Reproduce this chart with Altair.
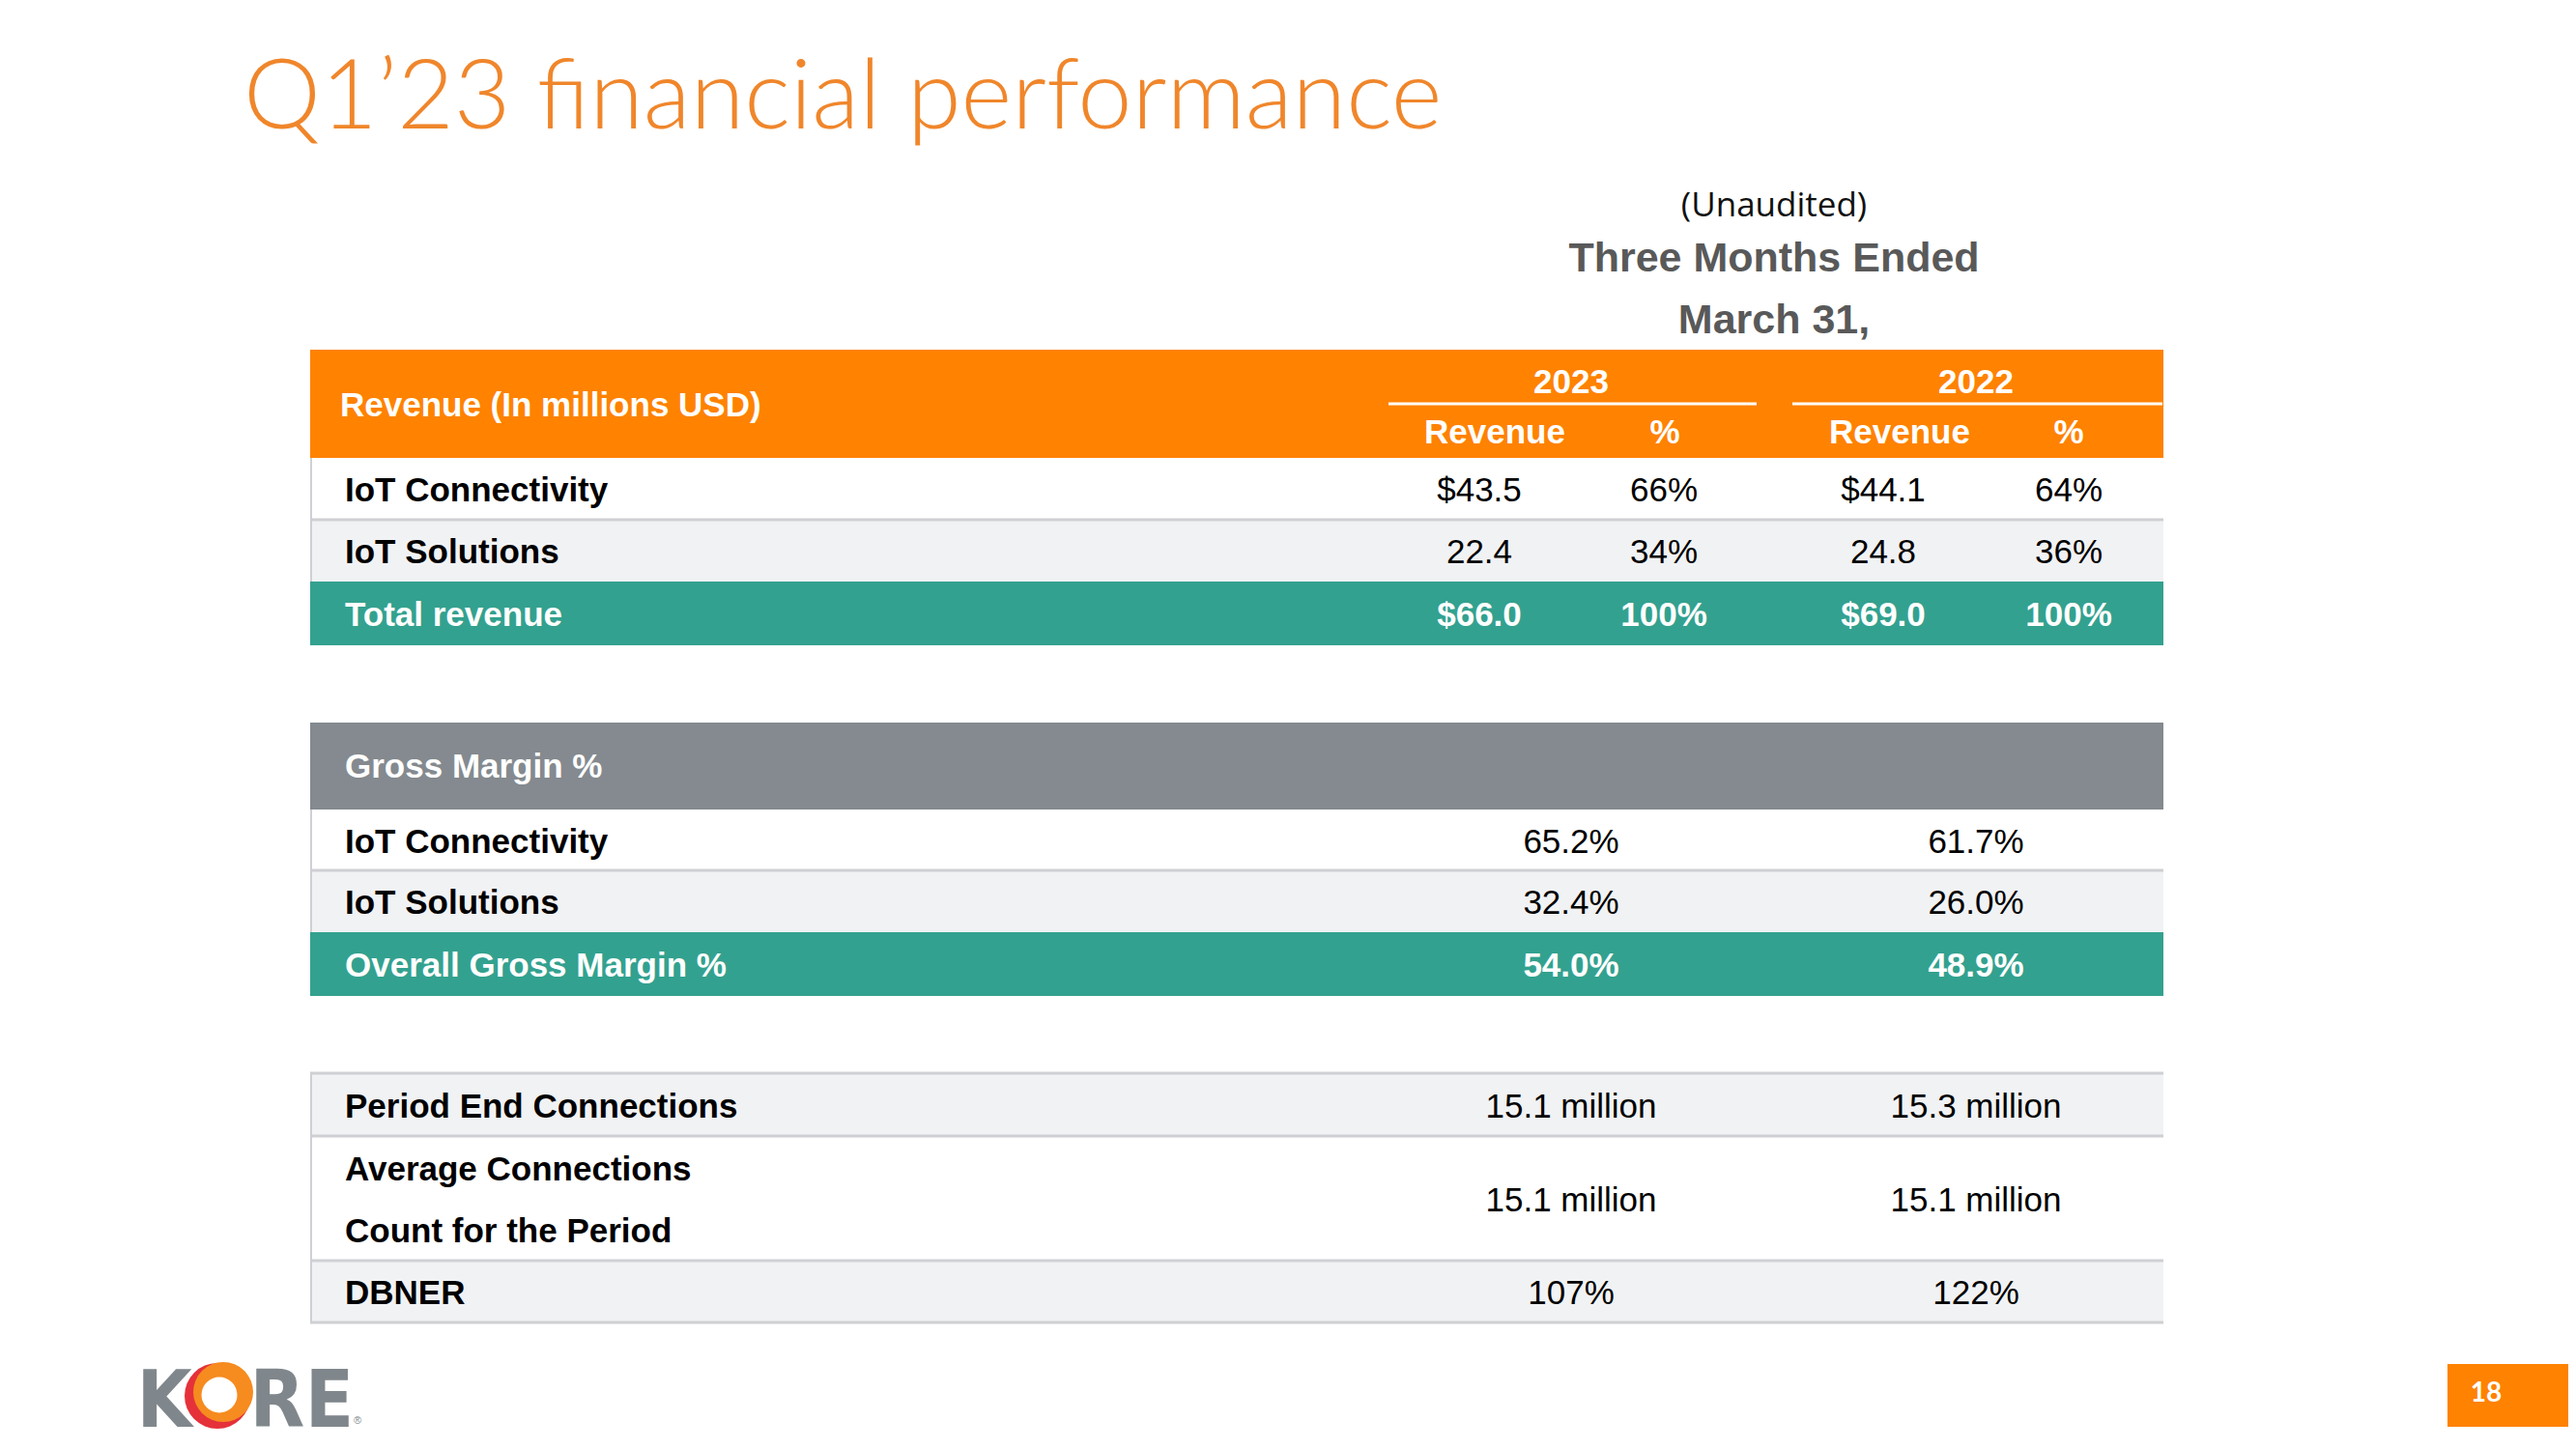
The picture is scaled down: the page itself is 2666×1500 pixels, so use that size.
import altair as alt
import pandas as pd

# ---------------- data ----------------
title_text = "Q1\u201923 financial performance"
header_lines = ["(Unaudited)", "Three Months Ended", "March 31,"]
years = ["2023", "2022"]
sub_cols = ["Revenue", "%"]

rev_title = "Revenue (In millions USD)"
rev_rows = ["IoT Connectivity", "IoT Solutions", "Total revenue"]
rev_2023 = ["$43.5", "22.4", "$66.0"]
pct_2023 = ["66%", "34%", "100%"]
rev_2022 = ["$44.1", "24.8", "$69.0"]
pct_2022 = ["64%", "36%", "100%"]

gm_title = "Gross Margin %"
gm_rows = ["IoT Connectivity", "IoT Solutions", "Overall Gross Margin %"]
gm_2023 = ["65.2%", "32.4%", "54.0%"]
gm_2022 = ["61.7%", "26.0%", "48.9%"]

conn_rows = ["Period End Connections", "Average Connections\nCount for the Period", "DBNER"]
conn_2023 = ["15.1 million", "15.1 million", "107%"]
conn_2022 = ["15.3 million", "15.1 million", "122%"]

page_number = "18"
logo_letters = ["K", "R", "E"]

# ---------------- layout (page pixels) ----------------
W, H = 2650, 1472
ORANGE = "#FF8200"
TITLE_ORANGE = "#F0862B"
TEAL = "#33A18F"
GRAY_HEAD = "#848A8F"
LIGHT = "#F1F2F4"
LINE = "#CFD0D3"
LOGO_GRAY = "#80878C"
FONT = "Liberation Sans"

TL, TR = 321, 2239
rev_band = (362, 474)
rev_edges = [474, 538, 602, 668]
gm_band = (748, 838)
gm_edges = [838, 901, 965, 1031]
conn_edges = [1111, 1176, 1305, 1369]
fills_a = ["#FFFFFF", LIGHT, TEAL]
fills_c = [LIGHT, "#FFFFFF", LIGHT]
label_x = 357
rev_val_x = [1531, 1722, 1949, 2141]
rev_head_x = [1547, 1723, 1966, 2141]
year_x = [1626, 2045]
val_x = [1626, 2045]
underline = [(1437, 1818), (1855, 2238)]
LINE_H = 64

xs = alt.Scale(domain=[8, 8 + W], nice=False, zero=False)
ys = alt.Scale(domain=[8, 8 + H], nice=False, zero=False, reverse=True)


def enc_xy(two=False):
    e = dict(x=alt.X("x:Q", scale=xs, axis=None), y=alt.Y("y:Q", scale=ys, axis=None))
    if two:
        e["x2"] = alt.X2("x2:Q")
        e["y2"] = alt.Y2("y2:Q")
    return e


# ---- rectangles ----
rects = [dict(x=TL, x2=TR, y=rev_band[0], y2=rev_band[1], fill=ORANGE),
         dict(x=TL, x2=TR, y=gm_band[0], y2=gm_band[1], fill=GRAY_HEAD),
         dict(x=2533, x2=2666, y=1412, y2=1477, fill=ORANGE)]
for i in range(3):
    rects.append(dict(x=TL, x2=TR, y=rev_edges[i], y2=rev_edges[i + 1], fill=fills_a[i]))
    rects.append(dict(x=TL, x2=TR, y=gm_edges[i], y2=gm_edges[i + 1], fill=fills_a[i]))
    rects.append(dict(x=TL, x2=TR, y=conn_edges[i], y2=conn_edges[i + 1], fill=fills_c[i]))
rect_layer = alt.Chart(pd.DataFrame(rects)).mark_rect().encode(
    color=alt.Color("fill:N", scale=None), **enc_xy(True))

# ---- rules ----
rules = []
for a, b in underline:
    rules.append(dict(x=a, x2=b, y=418, y2=418, c="#FFFFFF", w=3))
for yy in [rev_edges[1], gm_edges[1]] + conn_edges:
    rules.append(dict(x=TL, x2=TR, y=yy, y2=yy, c=LINE, w=3))
for a, b in [(rev_edges[0], rev_edges[2]), (gm_edges[0], gm_edges[2]), (conn_edges[0], conn_edges[3])]:
    rules.append(dict(x=TL + 1, x2=TL + 1, y=a, y2=b, c=LINE, w=2))
rule_layer = alt.Chart(pd.DataFrame(rules)).mark_rule().encode(
    color=alt.Color("c:N", scale=None), strokeWidth=alt.StrokeWidth("w:Q", scale=None),
    **enc_xy(True))

# ---- logo ring ----
circ = pd.DataFrame([
    dict(x=225, y=1445, s=68 ** 2, c="#E5313A"),
    dict(x=231, y=1441, s=62 ** 2, c="#F68B1F"),
    dict(x=227, y=1444, s=37 ** 2, c="#FFFFFF"),
])
circ_layer = alt.Chart(circ).mark_point(filled=True, shape="circle", opacity=1).encode(
    size=alt.Size("s:Q", scale=None), color=alt.Color("c:N", scale=None), **enc_xy())


def text_layer(rows, **kw):
    df = pd.DataFrame(rows, columns=["x", "y", "t"])
    return alt.Chart(df).mark_text(**kw).encode(text="t:N", **enc_xy())


def add_lines(target, x, yc, text):
    parts = text.split("\n")
    n = len(parts)
    for k, p in enumerate(parts):
        target.append((x, yc + (k - (n - 1) / 2) * LINE_H, p))


# title
title_layer = text_layer([(252, 133, title_text)], align="left", baseline="alphabetic",
                         font="Lato", fontWeight=300, fontSize=101, color=TITLE_ORANGE)
# header block
unaud = text_layer([(1836, 213, header_lines[0])], align="center", baseline="middle",
                   font="Open Sans", fontSize=35, color="#111111")
head_bold = text_layer([(1836, 268, header_lines[1]), (1836, 332, header_lines[2])],
                       align="center", baseline="middle", font=FONT, fontWeight="bold",
                       fontSize=43, color="#595959")

# white bold header texts
wh_left = [(352, 420, rev_title), (label_x, 794, gm_title)]
wh_center = [(year_x[i], 396, years[i]) for i in range(2)]
for i in range(4):
    wh_center.append((rev_head_x[i], 448, sub_cols[i % 2]))
white_left = text_layer(wh_left, align="left", baseline="middle", font=FONT,
                        fontWeight="bold", fontSize=35, color="#FFFFFF")
white_head = text_layer(wh_center, align="center", baseline="middle", font=FONT,
                        fontWeight="bold", fontSize=35, color="#FFFFFF")


def mid(edges, i):
    return (edges[i] + edges[i + 1]) / 2 + 2


# row labels
lab_black, lab_white = [], []
for i in range(3):
    add_lines(lab_white if i == 2 else lab_black, label_x, mid(rev_edges, i), rev_rows[i])
    add_lines(lab_white if i == 2 else lab_black, label_x, mid(gm_edges, i), gm_rows[i])
    add_lines(lab_black, label_x, mid(conn_edges, i), conn_rows[i])
labels_black = text_layer(lab_black, align="left", baseline="middle", font=FONT,
                          fontWeight="bold", fontSize=35, color="#000000")
labels_white = text_layer(lab_white, align="left", baseline="middle", font=FONT,
                          fontWeight="bold", fontSize=35, color="#FFFFFF")

# values
v_black, v_white = [], []
rev_cols = [rev_2023, pct_2023, rev_2022, pct_2022]
for i in range(3):
    tgt = v_white if i == 2 else v_black
    for c in range(4):
        tgt.append((rev_val_x[c], mid(rev_edges, i), rev_cols[c][i]))
    tgt.append((val_x[0], mid(gm_edges, i), gm_2023[i]))
    tgt.append((val_x[1], mid(gm_edges, i), gm_2022[i]))
    v_black.append((val_x[0], mid(conn_edges, i), conn_2023[i]))
    v_black.append((val_x[1], mid(conn_edges, i), conn_2022[i]))
vals_black = text_layer(v_black, align="center", baseline="middle", font=FONT,
                        fontSize=35, color="#000000")
vals_white = text_layer(v_white, align="center", baseline="middle", font=FONT,
                        fontWeight="bold", fontSize=35, color="#FFFFFF")

# logo letters and page number
logo = text_layer([(170, 1477, logo_letters[0]), (287, 1477, logo_letters[1]),
                   (341, 1477, logo_letters[2])], align="center", baseline="alphabetic",
                  font="DejaVu Sans Condensed, Liberation Sans", fontWeight="bold",
                  fontSize=82, color=LOGO_GRAY)
reg = text_layer([(370, 1474, "\u00ae")], align="center", baseline="alphabetic",
                 font=FONT, fontSize=11, color=LOGO_GRAY)
pnum = text_layer([(2573, 1443, page_number)], align="center", baseline="middle",
                  font="Lato", fontWeight="bold", fontSize=28, color="#FFFFFF")

chart = alt.layer(
    rect_layer, rule_layer, circ_layer, title_layer, unaud, head_bold,
    white_left, white_head, labels_black, labels_white, vals_black, vals_white,
    logo, reg, pnum,
).properties(width=W, height=H, padding=0, autosize="none", background="#FFFFFF"
).configure_view(stroke=None)

chart.save("out.html", embed_options={"renderer": "svg", "actions": False})
